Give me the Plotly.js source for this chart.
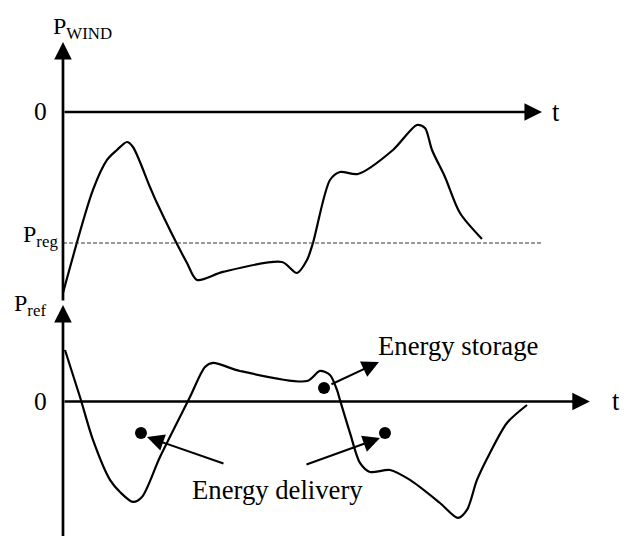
<!DOCTYPE html>
<html><head><meta charset="utf-8">
<script src="https://cdn.plot.ly/plotly-3.0.1.min.js"></script>
<style>html,body{margin:0;padding:0;background:#fff}</style>
</head><body><div id="chart" style="width:627px;height:536px"></div>
<script>
// Upper panel: wind power P_WIND(t) (t: 0..100, P normalised so P_reg = -1)
const windT = [0, 6.26, 9.19, 11.27, 13.36, 14.61, 18.16, 19.62, 25.89, 27.97, 33.40, 45.72, 48.85, 50.94, 52.19, 55.74, 57.83, 61.59, 68.89, 73.90, 75.57, 77.04, 79.75, 82.88, 87.47];
const windP = [-1.382, -0.595, -0.366, -0.290, -0.229, -0.267, -0.573, -0.695, -1.153, -1.282, -1.221, -1.145, -1.229, -1.130, -1.000, -0.519, -0.458, -0.473, -0.290, -0.099, -0.122, -0.290, -0.496, -0.771, -0.969];
const pReg = -1;
const tEndUpper = 100;

// Lower panel: reference P_ref(t)
const refT = [0.42, 3.55, 6.26, 9.81, 11.90, 14.61, 16.49, 20.25, 26.51, 29.65, 31.32, 36.95, 50.94, 53.65, 55.74, 57.20, 57.83, 59.92, 62.00, 64.09, 68.27, 72.44, 78.71, 82.46, 84.34, 86.43, 89.14, 92.69, 96.87];
const refP = [0.393, 0.034, -0.294, -0.599, -0.691, -0.767, -0.729, -0.424, 0.034, 0.263, 0.294, 0.233, 0.156, 0.233, 0.202, 0.088, 0.011, -0.240, -0.469, -0.538, -0.523, -0.599, -0.775, -0.889, -0.828, -0.599, -0.393, -0.164, -0.027];
const tEndLower = 110;

// Marker dots and pointer arrows (lower panel)
const dotT = [54.49, 16.28, 67.22];
const dotP = [0.103, -0.240, -0.240];
const pointerTail = [[55.74, 0.126], [33.82, -0.477], [50.52, -0.485]];
const pointerTip  = [[65.97, 0.302], [17.54, -0.271], [66.18, -0.279]];
const labelStorage = "Energy storage";
const labelDelivery = "Energy delivery";

const serif = '"Liberation Serif", "Times New Roman", Times, serif';
const black = "#000";

const traces = [
  {x: windT, y: windP, xaxis: 'x', yaxis: 'y', mode: 'lines', line: {color: black, width: 2.2, shape: 'spline', smoothing: 0.8}, cliponaxis: false, hoverinfo: 'skip'},
  {x: [0, tEndUpper], y: [pReg, pReg], xaxis: 'x', yaxis: 'y', mode: 'lines', line: {color: '#333', width: 1.2, dash: '4px,2px'}, hoverinfo: 'skip'},
  {x: refT, y: refP, xaxis: 'x', yaxis: 'y2', mode: 'lines', line: {color: black, width: 2.2, shape: 'spline', smoothing: 0.8}, cliponaxis: false, hoverinfo: 'skip'},
  {x: dotT, y: dotP, xaxis: 'x', yaxis: 'y2', mode: 'markers', marker: {color: black, size: 12}, cliponaxis: false, hoverinfo: 'skip'}
];

function axisArrow(tail, tip, yref) {
  return {xref: 'x', yref: yref, axref: 'x', ayref: yref, x: tip[0], y: tip[1], ax: tail[0], ay: tail[1],
    text: '', showarrow: true, arrowhead: 2, arrowsize: 1.3, arrowwidth: 2.7, arrowcolor: black, standoff: 0, startstandoff: 0};
}
function pointer(tail, tip) {
  return {xref: 'x', yref: 'y2', axref: 'x', ayref: 'y2', x: tip[0], y: tip[1], ax: tail[0], ay: tail[1],
    text: '', showarrow: true, arrowhead: 2, arrowsize: 1.7, arrowwidth: 2, arrowcolor: black, standoff: 0};
}
function label(text, x, y, yref, xanchor, size) {
  return {xref: 'x', yref: yref, x: x, y: y, text: text, showarrow: false, xanchor: xanchor, yanchor: 'middle',
    font: {family: serif, size: size, color: black}};
}

const annotations = [
  axisArrow([0, -1.45], [0, 0.534], 'y'),
  axisArrow([0, 0], [tEndUpper, 0], 'y'),
  axisArrow([0, -1.12], [0, 0.737], 'y2'),
  axisArrow([0, 0], [tEndLower, 0], 'y2'),
  pointer(pointerTail[0], pointerTip[0]),
  pointer(pointerTail[1], pointerTip[1]),
  pointer(pointerTail[2], pointerTip[2]),
  label('P<sub>WIND</sub>', 3.97, 0.64, 'y', 'center', 24),
  label('0', -2.92, 0, 'y', 'right', 25.5),
  label('t', 102.9, 0, 'y', 'center', 26.5),
  label('P<sub>reg</sub>', -0.6, -0.95, 'y', 'right', 24),
  label('P<sub>ref</sub>', -3.1, 0.74, 'y2', 'right', 24),
  label('0', -2.92, 0, 'y2', 'right', 25.5),
  label('t', 115.4, 0, 'y2', 'center', 26.5),
  label(labelStorage, 82.46, 0.424, 'y2', 'center', 26.7),
  label(labelDelivery, 44.68, -0.676, 'y2', 'center', 26.7)
];

const layout = {
  width: 627, height: 536,
  margin: {l: 0, r: 0, t: 0, b: 0, pad: 0},
  paper_bgcolor: '#fff', plot_bgcolor: '#fff',
  showlegend: false,
  font: {family: serif, color: black},
  xaxis: {range: [-13.15, 117.75], visible: false, fixedrange: true},
  yaxis: {range: [-3.237, 0.855], visible: false, domain: [0, 1], fixedrange: true},
  yaxis2: {range: [-1.027, 3.065], visible: false, overlaying: 'y', fixedrange: true},
  annotations: annotations
};

Plotly.newPlot('chart', traces, layout, {displayModeBar: false, staticPlot: true});
</script>
</body></html>
